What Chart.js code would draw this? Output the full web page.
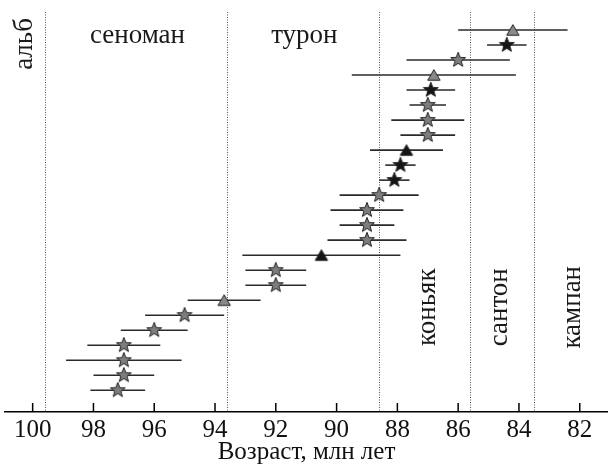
<!DOCTYPE html>
<html>
<head>
<meta charset="utf-8">
<script src="https://cdn.jsdelivr.net/npm/chart.js@4"></script>
<style>
  html, body { margin: 0; padding: 0; background: #fff; }
  #wrap { width: 608px; height: 467px; }
</style>
</head>
<body>
<div id="wrap"><canvas id="grafica" width="608" height="467"></canvas></div>
<script>
// datos: edad (млн лет) y límites de error, de arriba hacia abajo
const edades = [84.2, 84.4, 86.0, 86.8, 86.9, 87.0, 87.0, 87.0, 87.7, 87.9, 88.1, 88.6, 89.0,
                89.0, 89.0, 90.5, 92.0, 92.0, 93.7, 95.0, 96.0, 97.0, 97.0, 97.0, 97.2];
const limAntiguo = [86.0, 85.05, 87.7, 89.5, 87.7, 87.6, 88.2, 87.9, 88.9, 88.4, 88.6, 89.9, 90.2,
                    89.9, 90.3, 93.1, 93.0, 93.0, 94.9, 96.3, 97.1, 98.2, 98.9, 98.0, 98.1];
const limJoven = [82.4, 83.75, 84.3, 84.1, 86.1, 86.4, 85.8, 86.1, 86.5, 87.4, 87.6, 87.3, 87.8,
                  88.1, 87.7, 87.9, 91.0, 91.0, 92.5, 93.7, 94.9, 95.8, 95.1, 96.0, 96.3];
const marcas = ["triGris", "estNegra", "estGris", "triGris", "estNegra", "estGris", "estGris", "estGris",
                "triNegro", "estNegra", "estNegra", "estGris", "estGris", "estGris", "estGris", "triNegro",
                "estGris", "estGris", "triGris", "estGris", "estGris", "estGris", "estGris", "estGris", "estGris"];
const filas = edades.map((_, i) => edades.length - i);

// límites de pisos y nombres
const limitesPisos = [99.6, 93.6, 88.6, 85.6, 83.5];
const pisos = ["альб", "сеноман", "турон", "коньяк", "сантон", "кампан"];
const pisosX = [100.25, 96.55, 91.06, 87.0, 84.63, 82.23];
const pisosY = [24.07, 24.62, 24.62, 6.53, 6.53, 6.53];
const pisosRot = [true, false, false, true, true, true];

const ticksX = [100, 98, 96, 94, 92, 90, 88, 86, 84, 82];

const FUENTE = "'Liberation Serif', 'DejaVu Serif', serif";

// === MARCADORES ===
function hacerEstrella(relleno) {
    const c = document.createElement("canvas");
    c.width = 20; c.height = 20;
    const g = c.getContext("2d");
    const R = 7.8, r = 3.3;
    g.beginPath();
    for (let k = 0; k < 10; k++) {
        const rad = k % 2 === 0 ? R : r;
        const a = -Math.PI / 2 + k * Math.PI / 5;
        const px = 10 + rad * Math.cos(a), py = 10 + rad * Math.sin(a);
        if (k === 0) g.moveTo(px, py); else g.lineTo(px, py);
    }
    g.closePath();
    g.fillStyle = relleno;
    g.fill();
    g.strokeStyle = "#222";
    g.lineWidth = 1;
    g.stroke();
    return c;
}

function hacerTriangulo(relleno) {
    const c = document.createElement("canvas");
    c.width = 16; c.height = 16;
    const g = c.getContext("2d");
    g.beginPath();
    g.moveTo(8, 2.6);
    g.lineTo(14.2, 13.2);
    g.lineTo(1.8, 13.2);
    g.closePath();
    g.fillStyle = relleno;
    g.fill();
    g.strokeStyle = "#222";
    g.lineWidth = 1;
    g.stroke();
    return c;
}

const imagenes = {
    estGris: hacerEstrella("#7d7d7d"),
    estNegra: hacerEstrella("#151515"),
    triGris: hacerTriangulo("#8a8a8a"),
    triNegro: hacerTriangulo("#151515")
};

// === PLUGIN: líneas de pisos, barras de error, textos ===
const dibujoExtra = {
    id: "dibujoExtra",
    beforeDatasetsDraw(chart) {
        const { ctx, chartArea, scales: { x, y } } = chart;
        ctx.save();

        // líneas punteadas
        ctx.strokeStyle = "#555";
        ctx.lineWidth = 1;
        ctx.setLineDash([1, 1.5]);
        limitesPisos.forEach(v => {
            const px = Math.round(x.getPixelForValue(v)) + 0.5;
            ctx.beginPath();
            ctx.moveTo(px, chartArea.top);
            ctx.lineTo(px, chartArea.bottom);
            ctx.stroke();
        });
        ctx.setLineDash([]);

        // barras de error
        ctx.strokeStyle = "#2a2a2a";
        ctx.lineWidth = 1.6;
        edades.forEach((_, i) => {
            const py = y.getPixelForValue(filas[i]);
            ctx.beginPath();
            ctx.moveTo(x.getPixelForValue(limAntiguo[i]), py);
            ctx.lineTo(x.getPixelForValue(limJoven[i]), py);
            ctx.stroke();
        });

        // marcas de ticks hacia dentro
        ctx.strokeStyle = "#000";
        ctx.lineWidth = 1.5;
        ticksX.forEach(v => {
            const px = x.getPixelForValue(v);
            ctx.beginPath();
            ctx.moveTo(px, chartArea.bottom);
            ctx.lineTo(px, chartArea.bottom - 9);
            ctx.stroke();
        });

        // nombres de pisos
        ctx.fillStyle = "#1a1a1a";
        ctx.font = "27px " + FUENTE;
        ctx.textAlign = "center";
        ctx.textBaseline = "middle";
        pisos.forEach((t, i) => {
            const px = x.getPixelForValue(pisosX[i]);
            const py = y.getPixelForValue(pisosY[i]);
            ctx.save();
            ctx.translate(px, py);
            if (pisosRot[i]) ctx.rotate(-Math.PI / 2);
            ctx.fillText(t, 0, 0);
            ctx.restore();
        });

        ctx.restore();
    }
};

// === CHART ===
const ctx = document.getElementById("grafica").getContext("2d");

new Chart(ctx, {
    type: "scatter",
    data: {
        datasets: [{
            data: edades.map((e, i) => ({ x: e, y: filas[i] })),
            pointStyle: marcas.map(m => imagenes[m]),
            pointRadius: 8,
            showLine: false
        }]
    },
    options: {
        responsive: false,
        animation: false,
        devicePixelRatio: 1,
        layout: { autoPadding: false, padding: { left: 5, right: 0, top: 12, bottom: 0 } },
        plugins: { legend: { display: false }, tooltip: { enabled: false } },
        scales: {
            x: {
                type: "linear",
                reverse: true,
                min: 81.07,
                max: 100.91,
                grid: { display: false, drawTicks: false },
                border: { display: true, color: "#000", width: 1.5 },
                afterBuildTicks: scale => { scale.ticks = ticksX.map(v => ({ value: v })); },
                ticks: {
                    padding: 3,
                    color: "#111",
                    font: { family: FUENTE, size: 25, lineHeight: 1.2 },
                    callback: v => String(v)
                },
                title: {
                    display: true,
                    text: "Возраст, млн лет",
                    color: "#111",
                    font: { family: FUENTE, size: 25, lineHeight: 1.2 },
                    padding: { top: -11, bottom: 0 }
                }
            },
            y: { display: false, min: -0.447, max: 26.2 }
        }
    },
    plugins: [dibujoExtra]
});
</script>
</body>
</html>
